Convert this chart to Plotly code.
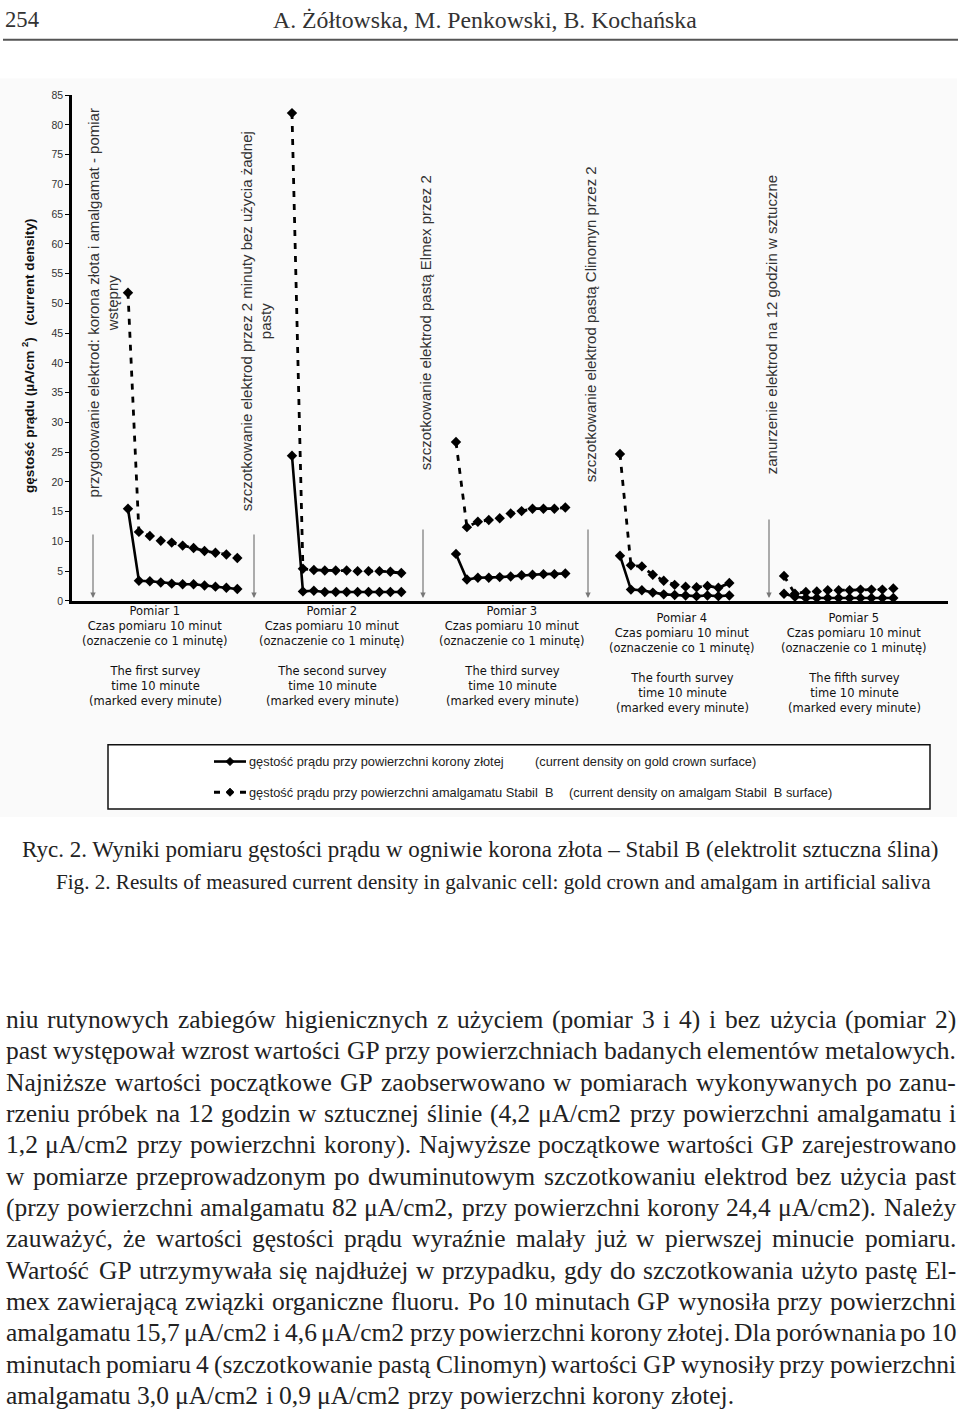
import unicodedata
import plotly.graph_objects as go

W, H = 960, 1412

# current density (uA/cm2): start value + 10 one-minute readings
gold_1 = [15.5, 3.4, 3.3, 3.1, 2.9, 2.8, 2.8, 2.6, 2.4, 2.2, 2.0]
amalgam_1 = [51.8, 11.6, 10.9, 10.1, 9.8, 9.3, 8.9, 8.4, 8.1, 7.8, 7.2]
gold_2 = [24.4, 1.6, 1.7, 1.5, 1.5, 1.5, 1.5, 1.5, 1.5, 1.5, 1.5]
amalgam_2 = [82.0, 5.4, 5.2, 5.1, 5.1, 5.1, 5.0, 5.0, 5.0, 4.9, 4.7]
gold_3 = [7.9, 3.6, 3.9, 3.9, 4.0, 4.1, 4.3, 4.4, 4.5, 4.5, 4.6]
amalgam_3 = [26.7, 12.4, 13.3, 13.6, 13.9, 14.7, 15.1, 15.5, 15.5, 15.5, 15.7]
gold_4 = [7.6, 1.9, 1.8, 1.4, 1.1, 1.0, 0.9, 0.8, 0.9, 0.8, 0.9]
amalgam_4 = [24.7, 6.0, 5.8, 4.4, 3.4, 2.7, 2.4, 2.3, 2.5, 2.2, 3.0]
gold_5 = [1.2, 0.7, 0.5, 0.5, 0.5, 0.5, 0.5, 0.5, 0.5, 0.5, 0.5]
amalgam_5 = [4.2, 1.2, 1.5, 1.6, 1.8, 1.8, 1.8, 1.9, 1.9, 1.9, 2.1]

y_ticks = [0, 5, 10, 15, 20, 25, 30, 35, 40, 45, 50, 55, 60, 65, 70, 75, 80, 85]

y_title = "gęstość prądu (µA/cm <sup>2</sup>)\u00a0\u00a0\u00a0(current density)"

procedure_notes = [
    "przygotowanie elektrod: korona złota i amalgamat - pomiar<br>wstępny",
    "szczotkowanie elektrod przez 2 minuty bez użycia żadnej<br>pasty",
    "szczotkowanie elektrod pastą Elmex przez 2",
    "szczotkowanie elektrod pastą Clinomyn przez 2",
    "zanurzenie elektrod na 12 godzin w sztuczne",
]

pomiar_pl = [
    "Pomiar 1<br>Czas pomiaru 10 minut<br>(oznaczenie co 1 minutę)",
    "Pomiar 2<br>Czas pomiaru 10 minut<br>(oznaczenie co 1 minutę)",
    "Pomiar 3<br>Czas pomiaru 10 minut<br>(oznaczenie co 1 minutę)",
    "Pomiar 4<br>Czas pomiaru 10 minut<br>(oznaczenie co 1 minutę)",
    "Pomiar 5<br>Czas pomiaru 10 minut<br>(oznaczenie co 1 minutę)",
]
survey_en = [
    "The first survey<br>time 10 minute<br>(marked every minute)",
    "The second survey<br>time 10 minute<br>(marked every minute)",
    "The third survey<br>time 10 minute<br>(marked every minute)",
    "The fourth survey<br>time 10 minute<br>(marked every minute)",
    "The fifth survey<br>time 10 minute<br>(marked every minute)",
]

legend_gold = ["gęstość prądu przy powierzchni korony złotej", "(current density on gold crown surface)"]
legend_amalgam = ["gęstość prądu przy powierzchni amalgamatu Stabil\u00a0 B",
                  "(current density on amalgam Stabil\u00a0 B surface)"]

header_page = "254"
header_authors = "A. Żółtowska, M. Penkowski, B. Kochańska"
caption_pl = "Ryc. 2. Wyniki pomiaru gęstości prądu w ogniwie korona złota – Stabil B (elektrolit sztuczna ślina)"
caption_en = "Fig. 2. Results of measured current density in galvanic cell: gold crown and amalgam in artificial saliva"

body_lines = [
    "niu rutynowych zabiegów higienicznych z użyciem (pomiar 3 i 4) i bez użycia (pomiar 2)",
    "past występował wzrost wartości GP przy powierzchniach badanych elementów metalowych.",
    "Najniższe wartości początkowe GP zaobserwowano w pomiarach wykonywanych po zanu-",
    "rzeniu próbek na 12 godzin w sztucznej ślinie (4,2 μA/cm2 przy powierzchni amalgamatu i",
    "1,2 μA/cm2 przy powierzchni korony). Najwyższe początkowe wartości GP zarejestrowano",
    "w pomiarze przeprowadzonym po dwuminutowym szczotkowaniu elektrod bez użycia past",
    "(przy powierzchni amalgamatu 82 μA/cm2, przy powierzchni korony 24,4 μA/cm2). Należy",
    "zauważyć, że wartości gęstości prądu wyraźnie malały już w pierwszej minucie pomiaru.",
    "Wartość GP utrzymywała się najdłużej w przypadku, gdy do szczotkowania użyto pastę El-",
    "mex zawierającą związki organiczne fluoru. Po 10 minutach GP wynosiła przy powierzchni",
    "amalgamatu 15,7 μA/cm2 i 4,6 μA/cm2 przy powierzchni korony złotej. Dla porównania po 10",
    "minutach pomiaru 4 (szczotkowanie pastą Clinomyn) wartości GP wynosiły przy powierzchni",
    "amalgamatu 3,0 μA/cm2 i 0,9 μA/cm2 przy powierzchni korony złotej.",
]

SERIF = "Liberation Serif"
SANS = "Liberation Sans"
INK = "#222"


def px(x):
    return x / W


def py(y):
    return 1 - y / H


# Times (Liberation Serif) advance widths, 1/1000 em, used to justify the body text
TIMES = {" ": 250, ",": 250, ".": 250, "(": 333, ")": 333, "-": 333, "/": 278, ":": 278,
         "–": 500, "μ": 576, "ł": 278, "Ł": 611}
TIMES.update({c: 500 for c in "0123456789"})
TIMES.update(zip("abcdefghijklmnopqrstuvwxyz",
                 [444, 500, 444, 500, 444, 333, 500, 500, 278, 278, 500, 278, 778,
                  500, 500, 500, 500, 333, 389, 278, 500, 500, 722, 500, 500, 444]))
TIMES.update(zip("ABCDEFGHIJKLMNOPQRSTUVWXYZ",
                 [722, 667, 667, 722, 611, 556, 722, 722, 333, 389, 722, 611, 889,
                  722, 722, 556, 722, 667, 556, 611, 722, 722, 944, 722, 722, 611]))


def times_em(s):
    total = 0
    for ch in s:
        if ch not in TIMES:
            ch = unicodedata.normalize("NFD", ch)[0]
        total += TIMES.get(ch, 500)
    return total / 1000


annotations = []


def note(x, y, text, size, family=SANS, color=INK, xanchor="center", yanchor="middle", angle=0, align="center"):
    annotations.append(dict(x=px(x), y=py(y), xref="paper", yref="paper", text=text, showarrow=False,
                            xanchor=xanchor, yanchor=yanchor, textangle=angle, align=align,
                            font=dict(family=family, size=size, color=color)))


fig = go.Figure()

# chart: each survey is a start value plus ten minutes; surveys sit 15 steps apart
golds = [gold_1, gold_2, gold_3, gold_4, gold_5]
amalgams = [amalgam_1, amalgam_2, amalgam_3, amalgam_4, amalgam_5]


def series(groups):
    xs, ys = [], []
    for g, vals in enumerate(groups):
        xs += [15 * g + i for i in range(len(vals))] + [None]
        ys += vals + [None]
    return xs, ys


ax_, ay_ = series(amalgams)
fig.add_trace(go.Scatter(x=ax_, y=ay_, mode="lines+markers", connectgaps=False,
                         line=dict(color="black", width=2.8, dash="6px,7px"),
                         marker=dict(symbol="diamond", size=8, color="black"),
                         name="amalgamat Stabil B", showlegend=False))
gx, gy = series(golds)
fig.add_trace(go.Scatter(x=gx, y=gy, mode="lines+markers", connectgaps=False,
                         line=dict(color="black", width=2.6),
                         marker=dict(symbol="diamond", size=8, color="black"),
                         name="korona złota", showlegend=False))

# header
note(3, 14, header_page, 34 / times_em(header_page), SERIF, "#333", xanchor="left")
note(485, 14, header_authors, 424 / times_em(header_authors), SERIF, "#333")

# chart texts
note(28, 353, "<b>" + y_title + "</b>", 13.6, SANS, "#111", angle=-90)
for text, (x, y) in zip(procedure_notes, [(103, 300), (256, 318), (425, 320), (590, 321), (771, 322)]):
    note(x, y, text, 15, SANS, "#333", angle=-90)
for k, (pl, en) in enumerate(zip(pomiar_pl, survey_en)):
    cx = [155, 332, 512, 682, 854][k]
    dy = 0 if k < 3 else 7
    note(cx, 625 + dy, pl, 11.5, "DejaVu Sans", "#111")
    note(cx, 686 + dy, en, 11.5, "DejaVu Sans", "#111")

for x, top in zip([93, 254, 423, 588, 769], [532, 532, 527, 527, 517]):
    annotations.append(dict(x=px(x), y=py(597), xref="paper", yref="paper", text="", showarrow=True,
                            ax=0, ay=-(597 - top), arrowhead=2, arrowsize=0.9, arrowwidth=1.2,
                            arrowcolor="#777"))

# legend
note(247, 762, legend_gold[0], 12.8, SANS, "#222", xanchor="left")
note(533, 762, legend_gold[1], 12.8, SANS, "#222", xanchor="left")
note(247, 793, legend_amalgam[0], 12.8, SANS, "#222", xanchor="left")
note(567, 793, legend_amalgam[1], 12.8, SANS, "#222", xanchor="left")


def diamond(x, y, r=4):
    return (f"M{px(x - r)},{py(y)} L{px(x)},{py(y - r)} L{px(x + r)},{py(y)} "
            f"L{px(x)},{py(y + r)} Z")


shapes = [
    dict(type="rect", xref="paper", yref="paper", x0=px(0), x1=px(957), y0=py(73), y1=py(818),
         fillcolor="#fafafa", line=dict(width=0), layer="below"),
    dict(type="line", xref="paper", yref="paper", x0=px(3), x1=px(958), y0=py(34), y1=py(34),
         line=dict(color="#555", width=2)),
    dict(type="rect", xref="paper", yref="paper", x0=px(108), x1=px(930), y0=py(745), y1=py(810),
         fillcolor="white", line=dict(color="#111", width=1.5), layer="below"),
    dict(type="line", xref="paper", yref="paper", x0=px(214), x1=px(246), y0=py(762), y1=py(762),
         line=dict(color="black", width=2.6)),
    dict(type="path", xref="paper", yref="paper", path=diamond(230, 762), fillcolor="black",
         line=dict(color="black", width=1)),
    dict(type="line", xref="paper", yref="paper", x0=px(214), x1=px(246), y0=py(793), y1=py(793),
         line=dict(color="black", width=2.8, dash="6px,7px")),
    dict(type="path", xref="paper", yref="paper", path=diamond(230, 793), fillcolor="black",
         line=dict(color="black", width=1)),
]

# captions
note(480, 850, caption_pl, 920 / times_em(caption_pl), SERIF, "#222")
note(494, 884, caption_en, 875 / times_em(caption_en), SERIF, "#222")

# body text, justified between x=5 and x=955
FS = 25.5
for k, line in enumerate(body_lines):
    words = line.split(" ")
    widths = [times_em(w) * FS for w in words]
    y = 1031 + k * 31.6 - 0.34 * FS
    if k == len(body_lines) - 1:
        gap = 0.25 * FS
    else:
        gap = (950 - sum(widths)) / (len(words) - 1)
    x = 5
    for w, wd in zip(words, widths):
        note(x - 1, y, w, FS, SERIF, "#222", xanchor="left")
        x += wd + gap

fig.update_layout(
    width=W, height=H, autosize=False,
    margin=dict(l=0, r=0, t=0, b=0),
    paper_bgcolor="white", plot_bgcolor="rgba(0,0,0,0)",
    xaxis=dict(domain=[px(72), px(948)], range=[-5.12, 75.0], showgrid=False, zeroline=False,
               showticklabels=False, ticks="", showline=True, linecolor="black", linewidth=2.5),
    yaxis=dict(domain=[py(600), py(90)], range=[0, 85], showgrid=False, zeroline=False,
               tickvals=y_ticks, ticks="outside", ticklen=4, tickcolor="black",
               showline=True, linecolor="black", linewidth=2.5,
               tickfont=dict(family=SANS, size=10.5, color="#333")),
    annotations=annotations,
    shapes=shapes,
    showlegend=False,
)

# the page's default 8px body margin would push the figure off the 960x1412 window
fig.write_html("out.html", config={"displayModeBar": False},
               post_script="document.body.style.margin='0';")
